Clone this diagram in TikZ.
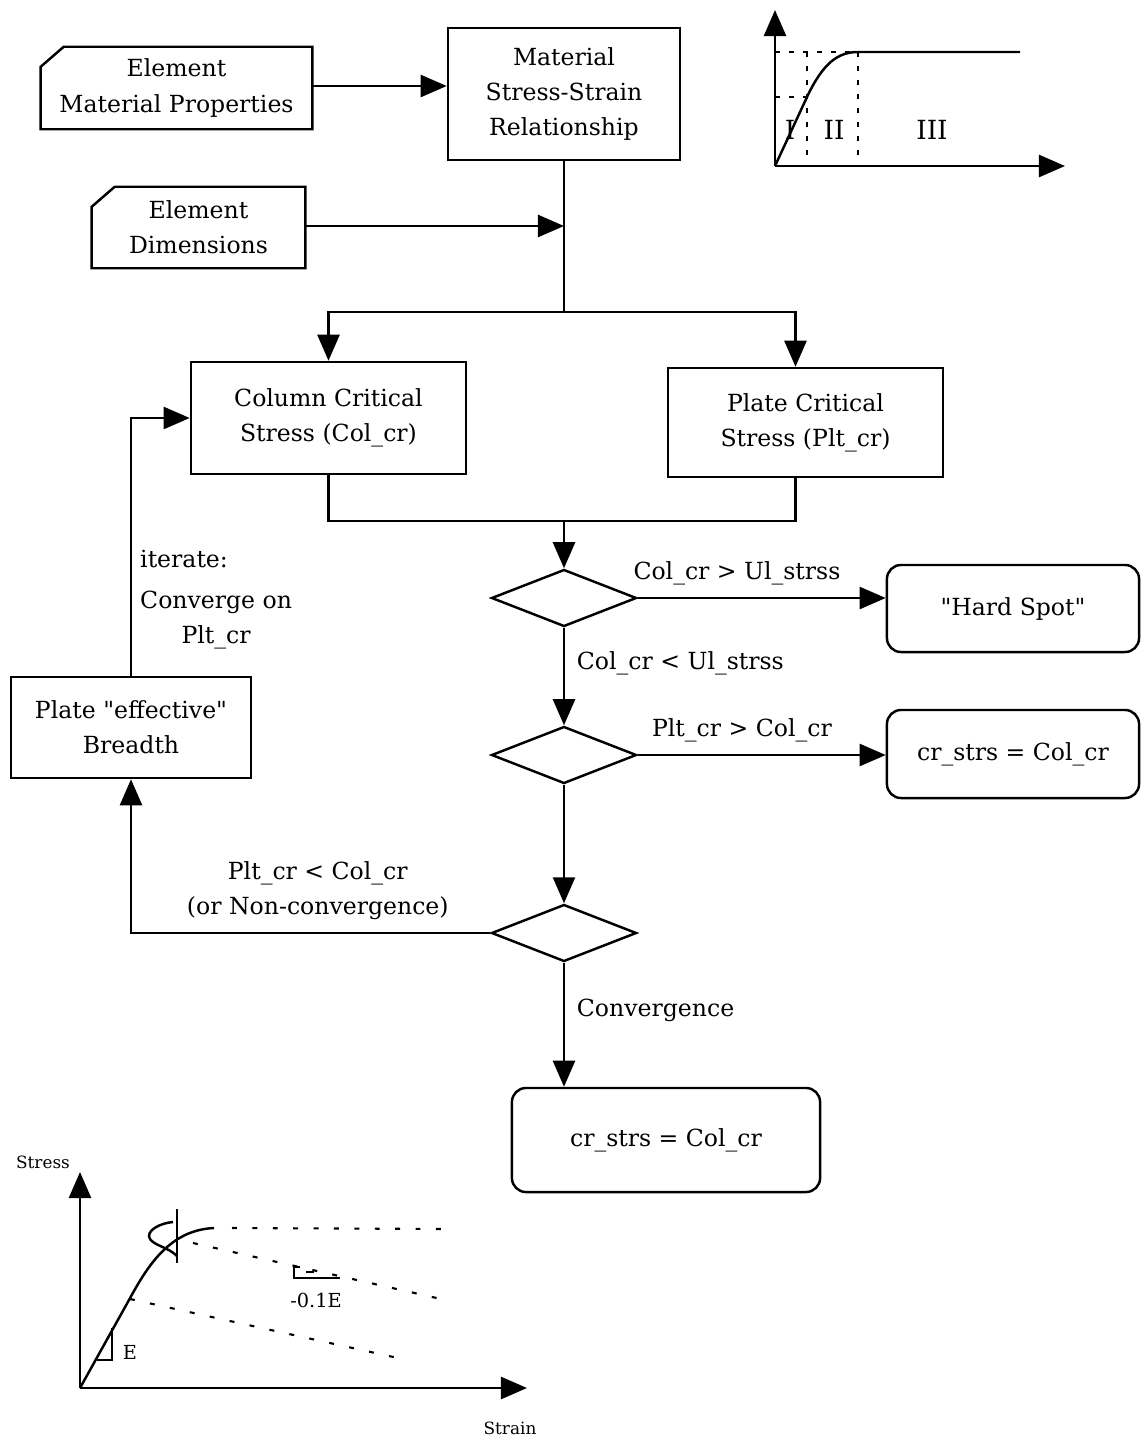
\documentclass[tikz,border=0pt]{standalone}
\usepackage{fontspec}
\setmainfont{DejaVu Serif}[Ligatures=TeXOff]
\usetikzlibrary{arrows.meta}
\usetikzlibrary{shapes.geometric}
\tikzset{
flowArrow/.style={-{Triangle[length=0.26cm, width=0.22cm]}}}

\begin{document}
\begin{tikzpicture}[x=0.01cm, y=-0.01cm, line width=0.7pt, font=\fontsize{6.7}{10}\selectfont]
		\tikzset{block/.style = {shape=rectangle, draw, align=center, inner sep=0pt}}
		\tikzset{result/.style = {block, rounded corners=4pt}}
		\tikzset{inputTag/.style = {shape=rectangle, align=center, inner sep=0pt}}
		\tikzset{decision/.style = {shape=diamond, draw, inner sep=0pt, minimum width=1.45cm, minimum height=0.57cm}}
		\tikzset{edge/.style = {flowArrow}}
		\tikzset{guide/.style = {line width=0.6pt, dash pattern=on 1.4pt off 2.6pt}}
		\tikzset{sparse/.style = {line width=0.6pt, dash pattern=on 1.4pt off 4.4pt}}
		\tikzset{small/.style = {font=\fontsize{4.8}{6}\selectfont}}

		\useasboundingbox (0,0) rectangle (1141,1439);

		\node[inputTag, minimum width=2.69cm, minimum height=0.8cm] (EMP) at (176.5,88) {Element\\Material Properties};
		\node[block, minimum width=2.32cm, minimum height=1.32cm] (MSS) at (564,94) {Material\\Stress-Strain\\Relationship};
		\node[inputTag, minimum width=2.11cm, minimum height=0.79cm] (ED) at (198.5,227.5) {Element\\Dimensions};
		\node[block, minimum width=2.75cm, minimum height=1.12cm] (COL) at (328.5,418) {Column Critical\\Stress (Col\_cr)};
		\node[block, minimum width=2.75cm, minimum height=1.09cm] (PLT) at (805.5,422.5) {Plate Critical\\Stress (Plt\_cr)};
		\node[decision] (D1) at (564,598) {};
		\node[decision] (D2) at (564,755) {};
		\node[decision] (D3) at (564,933) {};
		\node[result, minimum width=2.52cm, minimum height=0.87cm] (HS) at (1013,608.5) {"Hard Spot"};
		\node[result, minimum width=2.52cm, minimum height=0.88cm] (CS1) at (1013,754) {cr\_strs = Col\_cr};
		\node[block, minimum width=2.4cm, minimum height=1.01cm] (PEB) at (131,727.5) {Plate "effective"\\Breadth};
		\node[result, minimum width=3.08cm, minimum height=1.04cm] (CS2) at (666,1140) {cr\_strs = Col\_cr};

		\foreach \tag in {EMP,ED}
			\draw ([xshift=0.23cm]\tag.north west) -- (\tag.north east) -- (\tag.south east) -- (\tag.south west) -- ([yshift=-0.2cm]\tag.north west) -- cycle;

		\coordinate (split) at (564,312);
		\coordinate (join) at (564,521);

		\draw[edge] (EMP.east |- 0,86) -- (MSS.west |- 0,86);
		\draw (MSS.south) -- (split);
		\draw[edge] (ED.east |- 0,226) -- (split |- 0,226);
		\draw[edge] (split) -| (COL.north);
		\draw[edge] (split) -| ([xshift=-0.1cm]PLT.north);
		\draw (COL.south) |- (join) -| ([xshift=-0.1cm]PLT.south);
		\draw[edge] (join) -- (D1.north);
		\draw[edge] (D1.east) -- node[above, pos=0.4] {Col\_cr > Ul\_strss} (D1.east -| HS.west);
		\draw[edge] (D1.south) -- node[right, pos=0.36] {Col\_cr < Ul\_strss} (D2.north);
		\draw[edge] (D2.east) -- node[above, pos=0.42] {Plt\_cr > Col\_cr} (D2.east -| CS1.west);
		\draw[edge] (D2.south) -- (D3.north);
		\draw[edge] (D3.west) -| node[above, pos=0.24, align=center] {Plt\_cr < Col\_cr\\(or Non-convergence)} (PEB.south);
		\draw[edge] (D3.south) -- node[right, pos=0.38] {Convergence} (D3.south |- CS2.north);
		\draw[edge] (PEB.north) |- node[pos=0.226, anchor=west, inner sep=0pt, xshift=0.08cm] {iterate:}
			node[pos=0.108, anchor=west, inner sep=0pt, xshift=0.08cm, align=center] {Converge on\\Plt\_cr} (COL.west);

		\draw[edge] (775,166) -- (775,10);
		\draw[edge] (775,166) -- (1065,166);
		\draw (775,166) -- (807,97) .. controls (823,63) and (838,52) .. (858,52) -- (1020,52);
		\draw[guide] (775,52) -- (858,52) (775,97) -- (807,97) (807,52) -- (807,166) (858,52) -- (858,166);
		\node[font=\fontsize{7.5}{9}\selectfont] (r1) at (790,130) {I};
		\node[font=\fontsize{7.5}{9}\selectfont] (r2) at (834,130) {II};
		\node[font=\fontsize{7.5}{9}\selectfont] (r3) at (932,130) {III};

		\draw[edge] (80,1388) -- (80,1172);
		\draw[edge] (80,1388) -- (527,1388);
		\draw (80,1388) -- (129,1300) .. controls (148,1265) and (170,1230) .. (214,1228);
		\draw[sparse] (232,1228) -- (445,1229) (193,1243) -- (441,1299) (130,1299) -- (398,1358);
		\draw (177,1209) -- (177,1263);
		\draw (173,1222) .. controls (160,1223) and (145,1231) .. (150,1239) .. controls (155,1246) and (168,1247) .. (177,1256);
		\draw (97,1360) -- (112,1360) -- (112,1328);
		\draw (300,1267) -| (294,1278) -- (340,1278);
		\draw (306,1272) -- (314,1272);
		\node[font=\fontsize{5.5}{7}\selectfont] (slope) at (130,1352) {E};
		\node[font=\fontsize{5.5}{7}\selectfont] (drop) at (316,1300) {-0.1E};
		\node[small] (stress) at (43,1162) {Stress};
		\node[small] (strain) at (510,1428) {Strain};
	\end{tikzpicture}
\end{document}
